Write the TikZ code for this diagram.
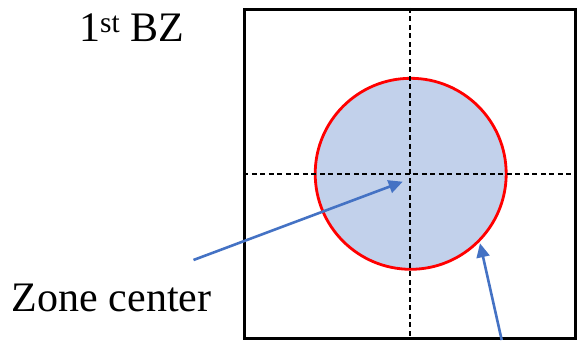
\documentclass[tikz,border=0pt]{standalone}
\usepackage{fontspec}
\setmainfont{Liberation Serif}
\usetikzlibrary{arrows.meta}
\definecolor{arrowblue}{HTML}{4472C4}
\definecolor{fillblue}{HTML}{C2D1EB}
\tikzset{
  bzbox/.style={draw=black,line width=2.8pt,minimum width=330.6pt,minimum height=329.6pt,inner sep=0pt},
  axisline/.style={draw=black,line width=1.3pt,dash pattern=on 5pt off 3.5pt},
  fermi/.style={circle,draw=red,fill=fillblue,line width=2.8pt,minimum size=191pt,inner sep=0pt},
  pointer/.style={draw=arrowblue,line width=2.6pt,-{Triangle[length=14pt,width=13pt]}},
  lbl/.style={font=\fontsize{42}{50}\selectfont,inner sep=0pt,anchor=base west}
}
\begin{document}
\begin{tikzpicture}[x=1pt,y=-1pt]
\useasboundingbox (0,0) rectangle (578,340);
\node[fermi] (circ) at (410.7,173.8) {};
\node[bzbox] (box) at (410,174) {};
\draw[axisline] (box.north) -- (box.south);
\draw[axisline] (box.west) -- (box.east);
\node[lbl] (bz) at (79,41.7) {1\textsuperscript{st} BZ};
\node[lbl] (zc) at (11.7,311.7) {Zone center};
\coordinate (a1s) at (193.5,260);
\coordinate (a1e) at (402.7,181.7);
\coordinate (a2s) at (501.7,340);
\coordinate (a2e) at (480,243.3);
\draw[pointer] (a1s) -- (a1e);
\draw[pointer] (a2s) -- (a2e);
\end{tikzpicture}
\end{document}
